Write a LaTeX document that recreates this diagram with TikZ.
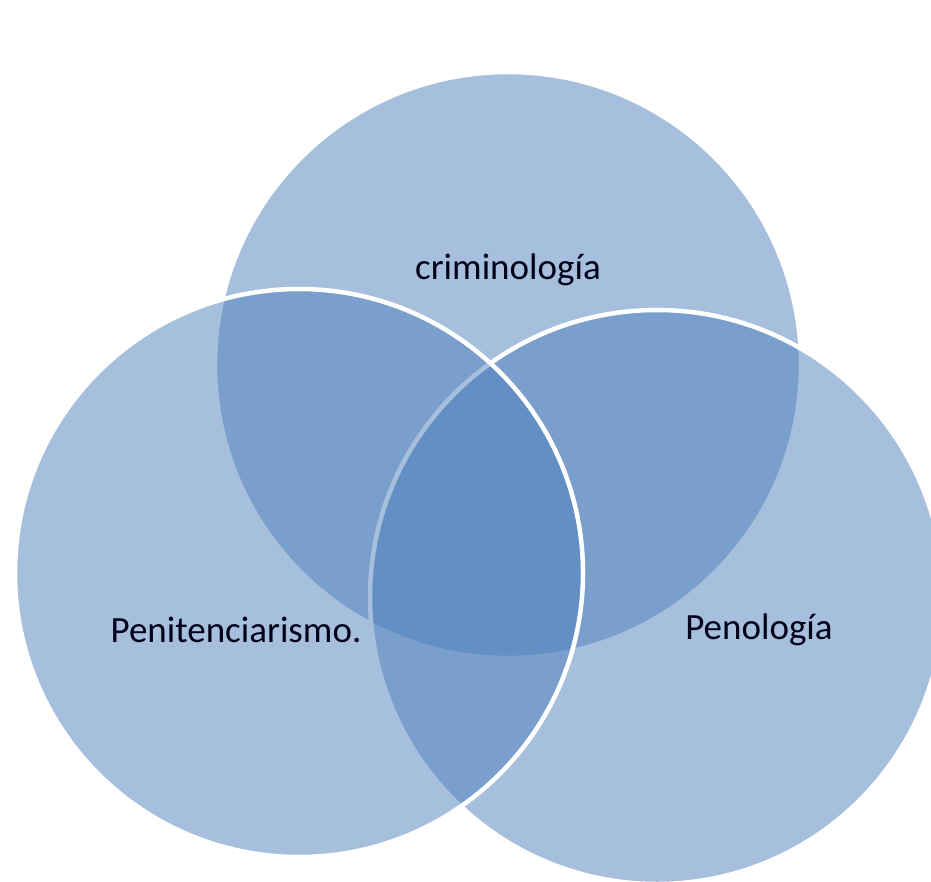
\documentclass[tikz,border=0pt]{standalone}
\usepackage{fontspec}
\setmainfont{Carlito}
\definecolor{vennblue}{HTML}{4F81BD}
\begin{document}
\begin{tikzpicture}[x=1pt,y=-1pt,
  venn/.style={circle, fill=vennblue, fill opacity=0.5, draw=white, draw opacity=1, line width=4.5pt, inner sep=0pt},
  lbl/.style={font=\fontsize{37}{44}\selectfont, text=black!90!blue, inner sep=0pt}]
\clip (0,0) rectangle (931,882);
\fill[white] (0,0) rectangle (931,882);
\node[venn, minimum size=586pt] (top) at (508,365) {};
\node[venn, minimum size=574pt] (right) at (657,597) {};
\node[venn, minimum size=568pt] (left) at (299,573) {};
\node[lbl] (tcrim) at (508,270) {criminología};
\node[lbl] (tpen) at (236,630) {Penitenciarismo.};
\node[lbl] (tpeno) at (759,630) {Penología};
\end{tikzpicture}
\end{document}
